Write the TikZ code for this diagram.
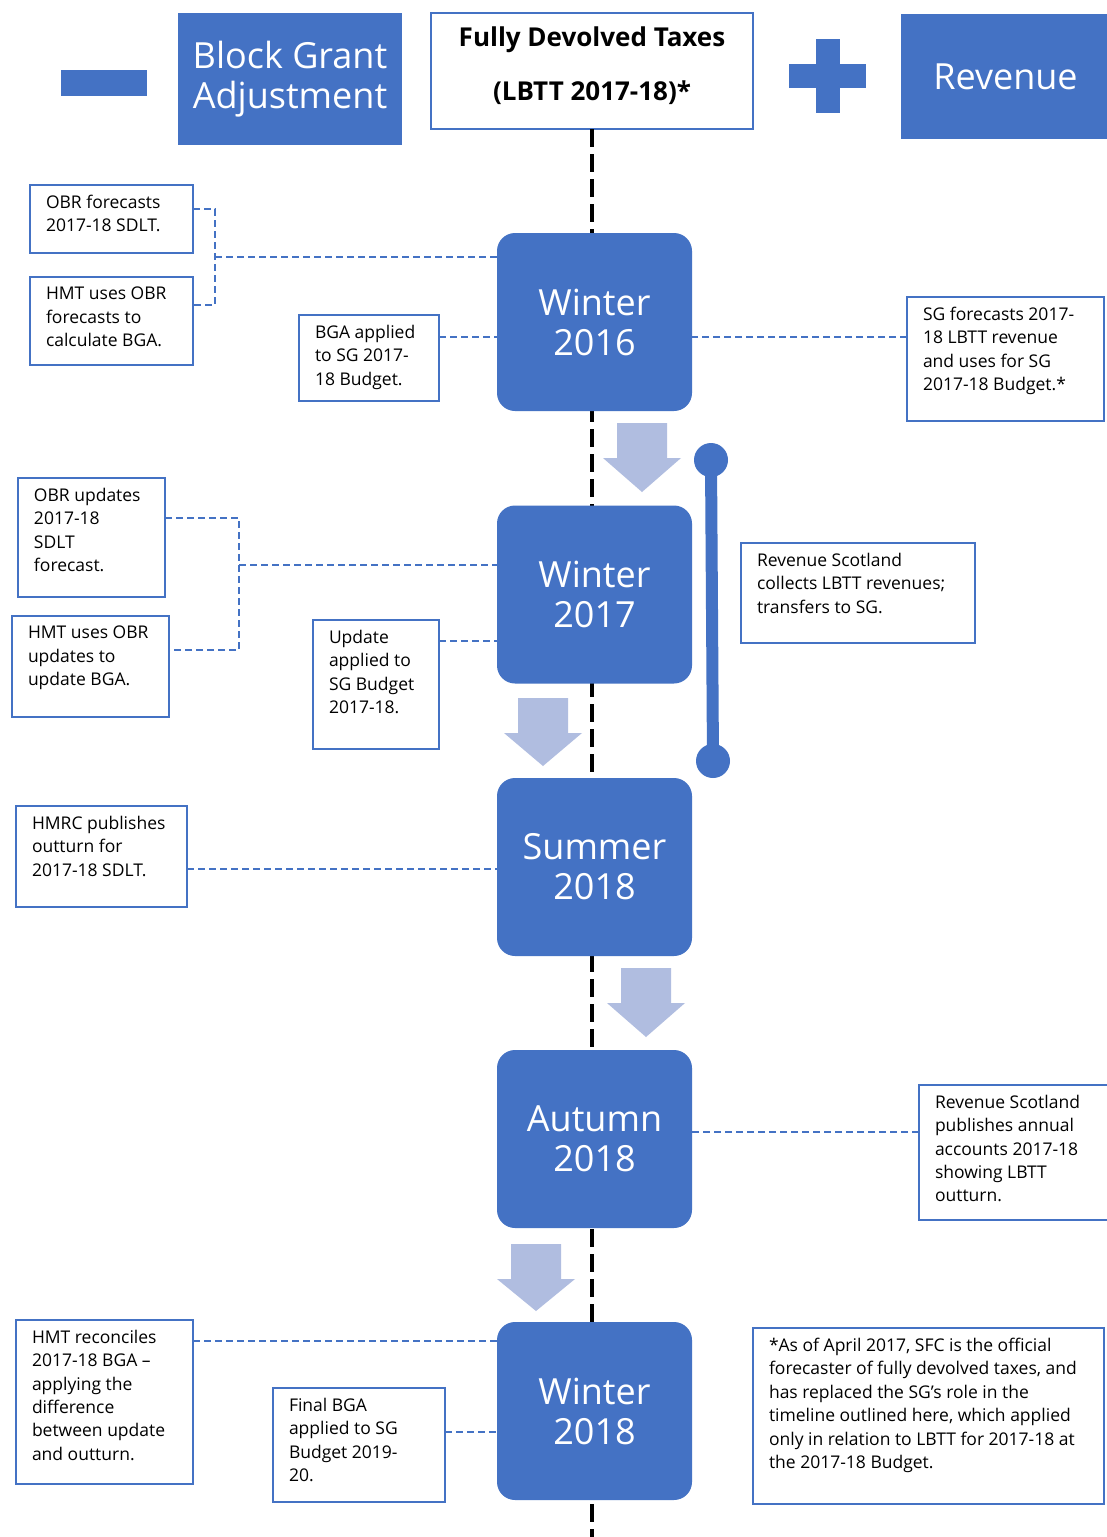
\documentclass[tikz,border=0pt]{standalone}
\usepackage{fontspec}
\setmainfont{Open Sans}
\definecolor{mblue}{HTML}{4472C4}
\definecolor{lblue}{HTML}{B0BDE0}
\newcommand\tbox[6]{%
  \pgfmathsetmacro\tbw{#4-#2}\pgfmathsetmacro\tbh{#5-#3}%
  \node[sbox, minimum width=\tbw pt, minimum height=\tbh pt] (#1) at (#2,#3) {};
  \node[stext] (#1t) at ([shift={(16,10)}]#1.north west) {#6};}
\newcommand\flowarrow[4]{%
  \fill[flow] (#2-25,#3) -- (#2+25,#3) -- (#2+25,#3+35) -- (#2+39,#3+35) -- (#2,#4) -- (#2-39,#3+35) -- (#2-25,#3+35) -- cycle;}
\begin{document}
\begin{tikzpicture}[x=1pt,y=-1pt,
  every node/.style={inner sep=0pt, outer sep=0pt},
  stage/.style={rectangle, rounded corners=18pt, fill=mblue, text=white, minimum width=195pt, minimum height=178pt, align=center, font=\fontsize{36}{40}\selectfont},
  head/.style={rectangle, fill=mblue, text=white, align=center, font=\fontsize{36}{40}\selectfont},
  sbox/.style={rectangle, draw=mblue, line width=1.8pt, fill=white, anchor=north west},
  stext/.style={anchor=north west, align=left, font=\fontsize{17.5}{23.4}\selectfont},
  conn/.style={draw=mblue, line width=1.5pt, dash pattern=on 7pt off 4pt},
  spine/.style={draw=black, line width=4.5pt, dash pattern=on 18pt off 7pt},
  flow/.style={fill=lblue},
]
\useasboundingbox (0,0) rectangle (1106,1537);
\fill[white] (0,0) rectangle (1106,1537);

% header
\node[rectangle, fill=mblue, minimum width=86pt, minimum height=26pt] (minus) at (104,83) {};
\node[head, minimum width=224pt, minimum height=132pt] (bga) at (290,79) {Block Grant\\Adjustment};
\node[rectangle, draw=mblue, line width=1.8pt, fill=white, minimum width=322pt, minimum height=116pt] (fdt) at (592,71) {};
\node[align=center, font=\bfseries\fontsize{26}{54}\selectfont] (fdtt) at ([yshift=5pt]fdt.center) {Fully Devolved Taxes\\(LBTT 2017-18)*};
\node[rectangle, fill=mblue, minimum width=77pt, minimum height=24pt] (plush) at (827.5,76) {};
\node[rectangle, fill=mblue, minimum width=24pt, minimum height=74pt] (plusv) at (827.5,76) {};
\node[head, minimum width=209pt, minimum height=125pt] (rev) at (1005.5,76.5) {Revenue};

% spine
\coordinate (bottom) at (592,1537);
\draw[spine] (fdt.south) -- (fdt.south |- bottom);

% flow arrows
\flowarrow{a1}{642}{423}{492}
\flowarrow{a2}{543}{698}{766}
\flowarrow{a3}{646}{968}{1037}
\flowarrow{a4}{536}{1244}{1311}

% stages
\node[stage] (w16) at (594.5,322) {Winter\\2016};
\node[stage] (w17) at (594.5,594.5) {Winter\\2017};
\node[stage] (s18) at (594.5,867) {Summer\\2018};
\node[stage] (a18) at (594.5,1139) {Autumn\\2018};
\node[stage] (w18) at (594.5,1411) {Winter\\2018};

% collection bar
\node[circle, fill=mblue, minimum size=34pt] (d1) at (711,460) {};
\node[circle, fill=mblue, minimum size=34pt] (d2) at (713,761) {};
\draw[mblue, line width=12pt] (d1.center) -- (d2.center);

% side boxes
\tbox{b1}{30}{185}{193}{253}{OBR forecasts\\2017-18 SDLT.}
\tbox{b2}{30}{277}{193}{365}{HMT uses OBR\\forecasts to\\calculate BGA.}
\tbox{b3}{299}{315}{439}{401}{BGA applied\\to SG 2017-\\18 Budget.}
\tbox{b4}{907}{297}{1104}{421}{SG forecasts 2017-\\18 LBTT revenue\\and uses for SG\\2017-18 Budget.*}
\tbox{b5}{18}{478}{165}{597}{OBR updates\\2017-18\\SDLT\\forecast.}
\tbox{b6}{12}{616}{169}{717}{HMT uses OBR\\updates to\\update BGA.}
\tbox{b7}{313}{620}{439}{749}{Update\\applied to\\SG Budget\\2017-18.}
\tbox{b8}{741}{543}{975}{643}{Revenue Scotland\\collects LBTT revenues;\\transfers to SG.}
\tbox{b9}{16}{806}{187}{907}{HMRC publishes\\outturn for\\2017-18 SDLT.}
\tbox{b10}{919}{1085}{1112}{1220}{Revenue Scotland\\publishes annual\\accounts 2017-18\\showing LBTT\\outturn.}
\tbox{b11}{16}{1320}{193}{1484}{HMT reconciles\\2017-18 BGA --\\applying the\\difference\\between update\\and outturn.}
\tbox{b12}{273}{1388}{445}{1502}{Final BGA\\applied to SG\\Budget 2019-\\20.}
\tbox{b13}{753}{1328}{1104}{1504}{*As of April 2017, SFC is the official\\forecaster of fully devolved taxes, and\\has replaced the SG's role in the\\timeline outlined here, which applied\\only in relation to LBTT for 2017-18 at\\the 2017-18 Budget.}

% connectors
\coordinate (j1) at (215,257);
\draw[conn] ([yshift=10pt]b1.east) -| (j1) |- ([yshift=16pt]b2.east);
\draw[conn] (j1) -- (j1 -| w16.west);
\coordinate (c3) at ([yshift=21pt]b3.east);
\draw[conn] (c3) -- (c3 -| w16.west);
\coordinate (c4) at ([yshift=22pt]b4.west);
\draw[conn] (c4) -- (c4 -| w16.east);
\coordinate (j2) at (239,565);
\draw[conn] ([yshift=19.5pt]b5.east) -| (j2) |- ([yshift=16.5pt]b6.east);
\draw[conn] (j2) -- (j2 -| w17.west);
\coordinate (c7) at ([yshift=43.5pt]b7.east);
\draw[conn] (c7) -- (c7 -| w17.west);
\coordinate (c9) at ([yshift=-12.5pt]b9.east);
\draw[conn] (c9) -- (c9 -| s18.west);
\coordinate (c10) at ([yshift=20.5pt]b10.west);
\draw[conn] (c10) -- (c10 -| a18.east);
\coordinate (c11) at ([yshift=61pt]b11.east);
\draw[conn] (c11) -- (c11 -| w18.west);
\coordinate (c12) at ([yshift=13pt]b12.east);
\draw[conn] (c12) -- (c12 -| w18.west);
\end{tikzpicture}
\end{document}
